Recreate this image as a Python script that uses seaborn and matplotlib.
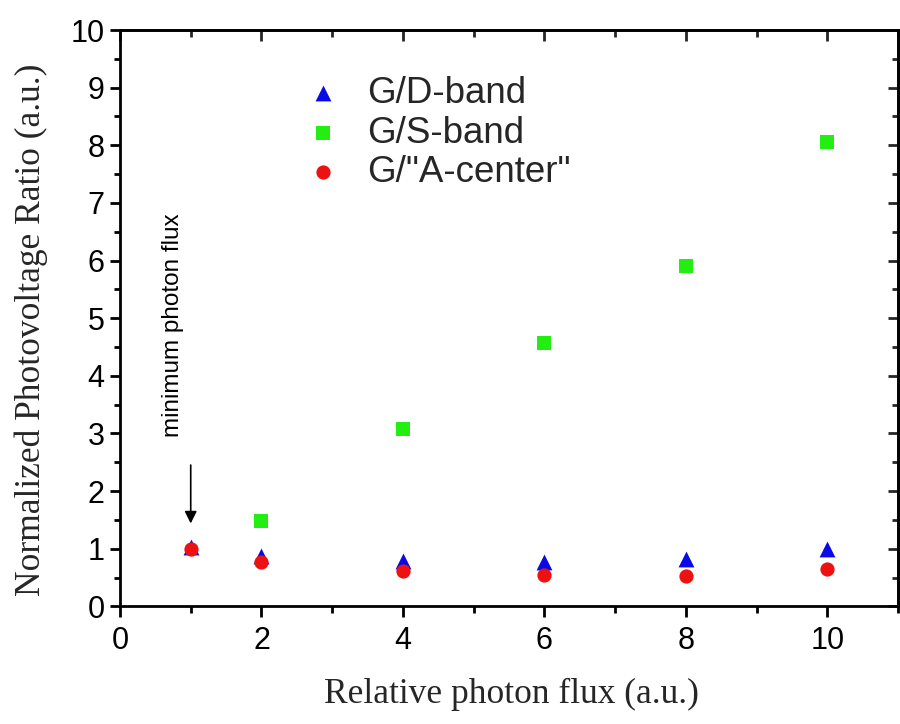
import matplotlib
matplotlib.use("Agg")
import matplotlib.pyplot as plt
import seaborn as sns
import pandas as pd
from matplotlib.ticker import MultipleLocator

flux = [1, 2, 4, 6, 8, 10]
gd_band = [1.03, 0.87, 0.79, 0.77, 0.83, 1.00]
gs_band = [float("nan"), 1.48, 3.08, 4.57, 5.90, 8.05]  # point at x=1 not visible
ga_center = [1.00, 0.77, 0.62, 0.55, 0.53, 0.65]
labels = ["G/D-band", "G/S-band", 'G/"A-center"']

sns.set_theme(style="white")
plt.rcParams['font.family'] = ['Liberation Sans', 'DejaVu Sans']

fig = plt.figure(figsize=(9, 7.24), dpi=100)
ax = fig.add_axes([0.1333, 0.1625, 0.8647, 0.796])

# draw order: green, blue, red (red on top)
df_s = pd.DataFrame({"x": flux, "y": gs_band})
df_d = pd.DataFrame({"x": flux, "y": gd_band})
df_a = pd.DataFrame({"x": flux, "y": ga_center})

sns.scatterplot(data=df_s, x="x", y="y", ax=ax, marker="s", color="#22ee11",
                s=90, linewidth=0, label=labels[1], zorder=3)
sns.scatterplot(data=df_d, x="x", y="y", ax=ax, marker="^", color="#0a0ae6",
                s=130, linewidth=0, label=labels[0], zorder=4)
sns.scatterplot(data=df_a, x="x", y="y", ax=ax, marker="o", color="#ee1111",
                s=105, linewidth=0, label=labels[2], zorder=5)

ax.set_xlim(0, 11)
ax.set_ylim(0, 10)
ax.xaxis.set_major_locator(MultipleLocator(2))
ax.xaxis.set_minor_locator(MultipleLocator(1))
ax.yaxis.set_major_locator(MultipleLocator(1))
ax.yaxis.set_minor_locator(MultipleLocator(0.5))

for sp in ax.spines.values():
    sp.set_visible(True)
    sp.set_color("black")
    sp.set_linewidth(2)

ax.tick_params(axis="both", which="both", colors="black", width=2)
ax.tick_params(axis="x", which="major", direction="out", length=8, labelsize=22,
               bottom=True, top=False, pad=6)
ax.tick_params(axis="x", which="minor", direction="out", length=5, bottom=True, top=False)
ax.tick_params(axis="y", which="major", direction="out", length=7, labelsize=22,
               left=True, right=False, pad=4)
ax.tick_params(axis="y", which="minor", direction="out", length=4, left=True, right=False)

# inward ticks on top and right
sec_x = ax.secondary_xaxis("top")
sec_x.xaxis.set_major_locator(MultipleLocator(2))
sec_x.xaxis.set_minor_locator(MultipleLocator(1))
sec_x.tick_params(which="major", direction="in", length=8, width=2, labeltop=False)
sec_x.tick_params(which="minor", direction="in", length=5, width=2)
sec_x.spines["top"].set_linewidth(2)
sec_y = ax.secondary_yaxis("right")
sec_y.yaxis.set_major_locator(MultipleLocator(1))
sec_y.yaxis.set_minor_locator(MultipleLocator(0.5))
sec_y.tick_params(which="major", direction="in", length=7, width=2, labelright=False)
sec_y.tick_params(which="minor", direction="in", length=4, width=2)
sec_y.spines["right"].set_linewidth(2)

ax.set_xlabel("Relative photon flux (a.u.)", fontfamily="Liberation Serif",
              fontsize=25.5)
ax.set_ylabel("Normalized Photovoltage Ratio (a.u.)", fontfamily="Liberation Serif",
              fontsize=25.5)
ax.xaxis.set_label_coords(0.5026, -0.124)
ax.yaxis.set_label_coords(-0.0925, 0.48)

# legend in order D, S, A
handles, labs = ax.get_legend_handles_labels()
order = [labs.index(l) for l in labels]
ax.legend([handles[i] for i in order], [labs[i] for i in order],
          loc="upper left", bbox_to_anchor=(0.2134, 0.920), frameon=False,
          fontsize=26.5, handlelength=2.0, handletextpad=0.2, labelspacing=0.12,
          borderpad=0, borderaxespad=0, markerscale=1.0)

ax.annotate("", xy=(1, 1.39), xytext=(1, 2.5),
            arrowprops=dict(arrowstyle="-|>", color="black", lw=1.2,
                            mutation_scale=18))
ax.text(0.75, 2.93, "minimum photon flux", rotation=90, fontsize=17.5,
        ha="center", va="bottom", color="black")

fig.savefig("out.png", dpi=100)
